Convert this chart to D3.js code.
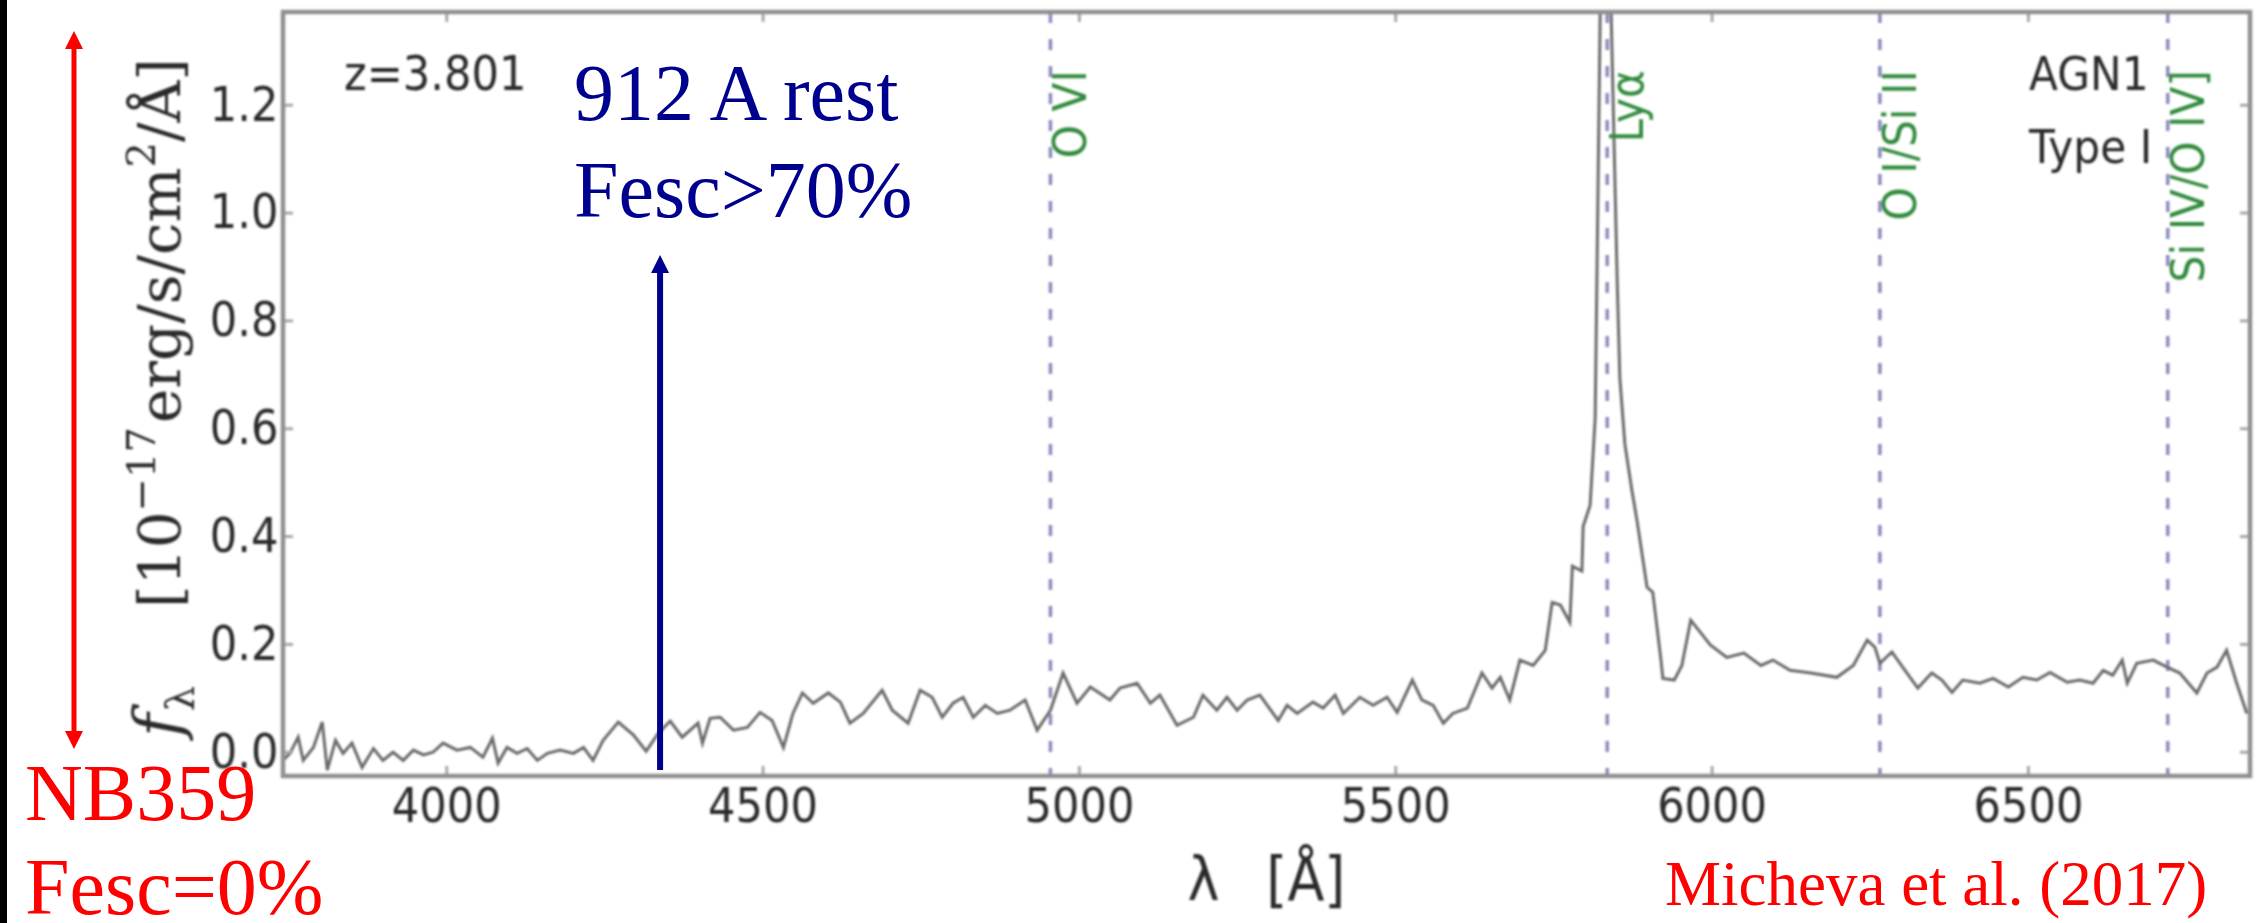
<!DOCTYPE html>
<html>
<head>
<meta charset="utf-8">
<script src="https://cdn.jsdelivr.net/npm/d3@7"></script>
<style>
  html, body { margin: 0; padding: 0; background: #fff; overflow: hidden; }
</style>
</head>
<body>
<svg id="chart" width="2263" height="923"></svg>
<script>
// Observed-frame spectrum of the z=3.801 type-I AGN (wavelength in Å, flux in 1e-17 erg/s/cm²/Å)
const wavelength = [3742,3753,3766,3774,3790,3804,3812,3825,3837,3851,
  3867,3885,3900,3916,3932,3948,3964,3979,3995,4017,
  4038,4058,4073,4082,4096,4112,4128,4144,4160,4180,
  4201,4217,4232,4248,4272,4296,4316,4335,4354,4373,
  4398,4405,4417,4433,4454,4476,4496,4515,4533,4548,
  4563,4580,4604,4623,4638,4659,4689,4705,4730,4749,
  4768,4784,4801,4817,4833,4852,4871,4891,4915,4934,
  4955,4975,4997,5018,5049,5065,5092,5113,5128,5155,
  5181,5196,5218,5234,5250,5266,5286,5315,5329,5345,
  5370,5386,5405,5418,5444,5465,5487,5503,5527,5542,
  5560,5576,5591,5614,5637,5653,5666,5681,5697,5718,
  5737,5748,5761,5776,5780,5795,5797,5808,5816,5830,
  5851,5855,5863,5874,5882,5898,5907,5920,5923,5941,
  5953,5967,5998,6024,6051,6078,6097,6124,6157,6198,
  6224,6246,6258,6266,6285,6302,6326,6348,6364,6380,
  6397,6424,6445,6469,6492,6514,6535,6562,6582,6603,
  6619,6634,6649,6657,6672,6698,6720,6740,6767,6783,
  6799,6814,6830,6846];
const flux = [-0.016,-0.003,0.027,-0.016,0.008,0.055,-0.034,0.021,-0.003,0.016,
  -0.029,0.006,-0.016,-0.001,-0.016,0.003,-0.006,-0.001,0.016,0.003,
  0.008,-0.010,0.025,-0.021,0.008,-0.003,0.006,-0.016,-0.003,0.003,
  -0.003,0.008,-0.016,0.021,0.055,0.031,0.001,0.034,0.057,0.027,
  0.053,0.016,0.062,0.064,0.040,0.045,0.073,0.058,0.008,0.071,
  0.109,0.090,0.109,0.092,0.053,0.071,0.114,0.077,0.053,0.114,
  0.101,0.064,0.090,0.101,0.064,0.086,0.071,0.077,0.096,0.040,
  0.077,0.146,0.090,0.120,0.096,0.118,0.127,0.090,0.105,0.049,
  0.064,0.105,0.077,0.101,0.077,0.096,0.105,0.058,0.086,0.071,
  0.092,0.081,0.105,0.071,0.101,0.086,0.101,0.073,0.133,0.096,
  0.086,0.053,0.071,0.081,0.146,0.118,0.138,0.096,0.170,0.160,
  0.188,0.277,0.272,0.240,0.344,0.335,0.418,0.457,0.619,1.95,
  0.864,0.693,0.570,0.485,0.430,0.305,0.296,0.170,0.136,0.133,
  0.160,0.244,0.198,0.175,0.183,0.160,0.170,0.151,0.146,0.138,
  0.160,0.207,0.194,0.164,0.185,0.157,0.118,0.146,0.133,0.110,
  0.133,0.127,0.136,0.120,0.138,0.133,0.147,0.129,0.133,0.127,
  0.151,0.142,0.170,0.127,0.164,0.170,0.157,0.146,0.109,0.146,
  0.157,0.188,0.127,0.071];

// Emission-line markers (observed wavelength)
const lineNames = ["O VI", "Lyα", "O I/Si II", "Si IV/O IV]"];
const lineWavelengths = [4955, 5835, 6266, 6721];

// Rest-frame 912 Å (Lyman limit) marker
const lymanLimit = [4338];

const xTicks = [4000, 4500, 5000, 5500, 6000, 6500];
const yTicks = [0.0, 0.2, 0.4, 0.6, 0.8, 1.0, 1.2];

const W = 2263, H = 923;
const plot = { left: 283, right: 2250, top: 12, bottom: 776 };

const x = d3.scaleLinear().domain([3742, 6851]).range([plot.left, plot.right]);
const y = d3.scaleLinear().domain([-0.045, 1.372]).range([plot.bottom, plot.top]);

const svg = d3.select("#chart");
const defs = svg.append("defs");
defs.append("filter").attr("id", "soft")
  .attr("x", "-2%").attr("y", "-2%").attr("width", "104%").attr("height", "104%")
  .append("feGaussianBlur").attr("stdDeviation", 0.8);
defs.append("clipPath").attr("id", "plotClip").append("rect")
  .attr("x", plot.left).attr("y", plot.top)
  .attr("width", plot.right - plot.left).attr("height", plot.bottom - plot.top);

svg.append("rect").attr("width", W).attr("height", H).attr("fill", "#fff");
svg.append("rect").attr("x", 0).attr("y", 0).attr("width", 7).attr("height", H).attr("fill", "#000");

const chart = svg.append("g").attr("filter", "url(#soft)");
const SANS = "DejaVu Sans, Verdana, sans-serif";
const INK = "#2a2a2a";

// dashed emission-line markers
chart.append("g").attr("clip-path", "url(#plotClip)")
  .selectAll("line").data(lineWavelengths).join("line")
  .attr("x1", d => x(d)).attr("x2", d => x(d))
  .attr("y1", plot.top).attr("y2", plot.bottom)
  .attr("stroke", "#8a8abb").attr("stroke-width", 3.5)
  .attr("stroke-dasharray", "11 16");

// spectrum
const pts = wavelength.map((w, i) => [w, flux[i]]);
chart.append("path").datum(pts)
  .attr("clip-path", "url(#plotClip)")
  .attr("d", d3.line().x(d => x(d[0])).y(d => y(d[1])))
  .attr("fill", "none").attr("stroke", "#6a6a6a").attr("stroke-width", 3)
  .attr("stroke-linejoin", "miter");

// axes: ticks point inward on all four sides
function styleAxis(g) {
  g.select(".domain").remove();
  g.selectAll(".tick line").attr("stroke", "#a8a8a8").attr("stroke-width", 3);
  g.selectAll(".tick text")
    .attr("font-family", SANS).attr("font-size", 48).attr("fill", INK)
    .attr("transform", "scale(0.9,1)");
}
chart.append("g").attr("transform", `translate(0,${plot.bottom})`)
  .call(d3.axisBottom(x).tickValues(xTicks).tickSizeInner(-10).tickSizeOuter(0)
    .tickPadding(12).tickFormat(d3.format("d")))
  .call(styleAxis);
chart.append("g").attr("transform", `translate(0,${plot.top})`)
  .call(d3.axisTop(x).tickValues(xTicks).tickSizeInner(-10).tickSizeOuter(0).tickFormat(""))
  .call(styleAxis);
chart.append("g").attr("transform", `translate(${plot.left},0)`)
  .call(d3.axisLeft(y).tickValues(yTicks).tickSizeInner(-10).tickSizeOuter(0)
    .tickPadding(5).tickFormat(d3.format(".1f")))
  .call(styleAxis);
chart.append("g").attr("transform", `translate(${plot.right},0)`)
  .call(d3.axisRight(y).tickValues(yTicks).tickSizeInner(-10).tickSizeOuter(0).tickFormat(""))
  .call(styleAxis);

// frame
chart.append("rect")
  .attr("x", plot.left).attr("y", plot.top)
  .attr("width", plot.right - plot.left).attr("height", plot.bottom - plot.top)
  .attr("fill", "none").attr("stroke", "#909090").attr("stroke-width", 4.5);

// emission-line names, vertical
chart.selectAll("text.line-name").data(lineNames).join("text")
  .attr("class", "line-name")
  .attr("transform", (d, i) => `translate(${x(lineWavelengths[i]) + 36},70) rotate(-90) scale(0.92,1)`)
  .attr("text-anchor", "end")
  .attr("font-family", SANS).attr("font-size", 46).attr("fill", "#338a3e")
  .text(d => d);

// in-panel annotations
chart.append("text").attr("transform", "translate(344,90) scale(0.9,1)")
  .attr("font-family", SANS).attr("font-size", 48).attr("fill", INK).text("z=3.801");
chart.append("text").attr("transform", "translate(2029,90) scale(0.92,1)")
  .attr("font-family", SANS).attr("font-size", 46).attr("fill", INK).text("AGN1");
chart.append("text").attr("transform", "translate(2029,163) scale(0.92,1)")
  .attr("font-family", SANS).attr("font-size", 46).attr("fill", INK).text("Type I");

// x-axis title
const xl = chart.append("text")
  .attr("transform", `translate(${(plot.left + plot.right) / 2},900) scale(0.9,1)`)
  .attr("text-anchor", "middle").attr("font-family", SANS).attr("font-size", 60).attr("fill", INK);
xl.append("tspan").text("λ");
xl.append("tspan").attr("dx", 52).text("[Å]");

// y-axis title: symbol at the bottom, units bracket ending near the top
const YSERIF = "DejaVu Serif, serif";
const ySym = chart.append("text")
  .attr("transform", "translate(180,737) rotate(-90)")
  .attr("text-anchor", "start").attr("font-family", YSERIF)
  .attr("font-size", 64).attr("fill", INK);
ySym.append("tspan").attr("font-style", "italic").text("f");
ySym.append("tspan").attr("font-size", 40).attr("dy", 14).attr("dx", 2).text("λ");

const yUnit = chart.append("text")
  .attr("transform", "translate(180,58) rotate(-90)")
  .attr("text-anchor", "end").attr("font-family", YSERIF)
  .attr("font-size", 58).attr("fill", INK);
yUnit.append("tspan").text("[10");
yUnit.append("tspan").attr("font-size", 40).attr("dy", -25).text("−17");
yUnit.append("tspan").attr("dy", 25).attr("dx", 4).text("erg/s/cm");
yUnit.append("tspan").attr("font-size", 40).attr("dy", -25).text("2");
yUnit.append("tspan").attr("dy", 25).text("/Å]");

// overlay annotations
const SERIF = "Liberation Serif, Times New Roman, serif";
const RED = "#ff0000", NAVY = "#00008f";
const ann = svg.append("g");

// red double-headed arrow
ann.append("line").attr("x1", 74).attr("x2", 74).attr("y1", 46).attr("y2", 735)
  .attr("stroke", RED).attr("stroke-width", 5);
ann.append("polygon").attr("points", "74,31 65,49 83,49").attr("fill", RED);
ann.append("polygon").attr("points", "74,749 65,731 83,731").attr("fill", RED);

// blue arrow at rest-frame 912 Å
ann.selectAll("line.lyc").data(lymanLimit).join("line").attr("class", "lyc")
  .attr("x1", d => x(d)).attr("x2", d => x(d))
  .attr("y1", 770).attr("y2", 268)
  .attr("stroke", NAVY).attr("stroke-width", 6);
ann.selectAll("polygon.lyc").data(lymanLimit).join("polygon").attr("class", "lyc")
  .attr("points", d => `${x(d)},255 ${x(d) - 9},273 ${x(d) + 9},273`)
  .attr("fill", NAVY);

ann.append("text").attr("x", 574).attr("y", 120)
  .attr("font-family", SERIF).attr("font-size", 80).attr("fill", NAVY).text("912 A rest");
ann.append("text").attr("x", 574).attr("y", 217)
  .attr("font-family", SERIF).attr("font-size", 80).attr("fill", NAVY).text("Fesc>70%");

ann.append("text").attr("x", 25).attr("y", 820)
  .attr("font-family", SERIF).attr("font-size", 80).attr("fill", RED).text("NB359");
ann.append("text").attr("x", 25).attr("y", 914)
  .attr("font-family", SERIF).attr("font-size", 80).attr("fill", RED).text("Fesc=0%");

ann.append("text").attr("x", 1665).attr("y", 905)
  .attr("font-family", SERIF).attr("font-size", 63).attr("fill", RED).text("Micheva et al. (2017)");
</script>
</body>
</html>
